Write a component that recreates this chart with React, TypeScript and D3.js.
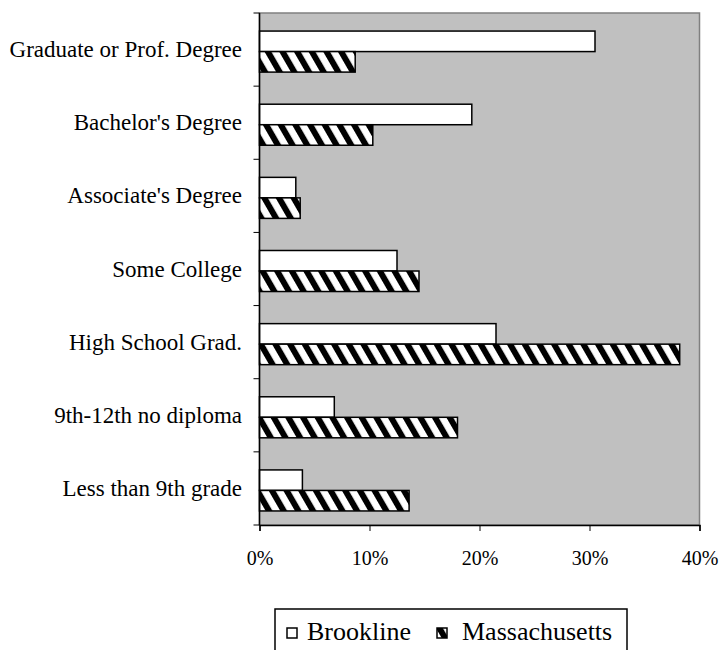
import React, { useEffect, useRef } from "react";
import * as d3 from "d3";

// --- Data ---
const categories = [
  "Graduate or Prof. Degree",
  "Bachelor's Degree",
  "Associate's Degree",
  "Some College",
  "High School Grad.",
  "9th-12th no diploma",
  "Less than 9th grade",
];
const seriesNames = ["Brookline", "Massachusetts"];
const brookline = [30.5, 19.3, 3.3, 12.5, 21.5, 6.8, 3.9];
const massachusetts = [8.7, 10.3, 3.7, 14.5, 38.2, 18.0, 13.6];
const xTicks = [0, 10, 20, 30, 40];

const FONT = "'Liberation Serif', 'Times New Roman', serif";

const App: React.FC = () => {
  const svgRef = useRef<SVGSVGElement>(null);
  const width = 722;
  const height = 650;

  useEffect(() => {
    if (!svgRef.current) return;
    const svg = d3.select(svgRef.current);
    svg.selectAll("*").remove();

    const plot = { left: 259.5, right: 699.5, top: 13, bottom: 525 };

    // hatch pattern for Massachusetts
    const defs = svg.append("defs");
    const pat = defs
      .append("pattern")
      .attr("id", "hatch")
      .attr("patternUnits", "userSpaceOnUse")
      .attr("width", 12.7)
      .attr("height", 10)
      .attr("patternTransform", "rotate(-30)");
    pat.append("rect").attr("width", 12.7).attr("height", 10).attr("fill", "#fff");
    pat.append("rect").attr("width", 6).attr("height", 10).attr("fill", "#000");

    const x = d3.scaleLinear().domain([0, 40]).range([plot.left, plot.right]);
    const y = d3
      .scaleBand()
      .domain(categories)
      .range([plot.top, plot.bottom])
      .padding(0);
    const bw = y.bandwidth();
    const sub = d3
      .scaleBand()
      .domain(seriesNames)
      .range([bw * 0.247, bw * 0.808])
      .padding(0);

    // plot area
    svg
      .append("rect")
      .attr("x", plot.left)
      .attr("y", plot.top)
      .attr("width", plot.right - plot.left)
      .attr("height", plot.bottom - plot.top)
      .attr("fill", "#c0c0c0")
      .attr("stroke", "#808080")
      .attr("stroke-width", 1.5);

    // bars
    const values = [brookline, massachusetts];
    const fills = ["#fff", "url(#hatch)"];
    seriesNames.forEach((s, si) => {
      svg
        .append("g")
        .selectAll("rect")
        .data(categories)
        .enter()
        .append("rect")
        .attr("x", x(0))
        .attr("y", (c) => y(c)! + sub(s)!)
        .attr("width", (c, i) => x(values[si][i]) - x(0))
        .attr("height", sub.bandwidth())
        .attr("fill", fills[si])
        .attr("stroke", "#000")
        .attr("stroke-width", 1.5);
    });

    // left axis: ticks at band boundaries
    const yBounds = categories.map((c) => y(c)!).concat([plot.bottom]);
    const left = svg.append("g");
    left
      .append("line")
      .attr("x1", plot.left)
      .attr("x2", plot.left)
      .attr("y1", plot.top)
      .attr("y2", plot.bottom)
      .attr("stroke", "#000")
      .attr("stroke-width", 1.5);
    left
      .selectAll("line.tick")
      .data(yBounds)
      .enter()
      .append("line")
      .attr("class", "tick")
      .attr("x1", plot.left - 6)
      .attr("x2", plot.left)
      .attr("y1", (d) => d)
      .attr("y2", (d) => d)
      .attr("stroke", "#000")
      .attr("stroke-width", 1);
    left
      .selectAll("text")
      .data(categories)
      .enter()
      .append("text")
      .attr("x", 242)
      .attr("y", (c) => y(c)! + bw / 2 + 7.5)
      .attr("text-anchor", "end")
      .style("font-family", FONT)
      .style("font-size", "23px")
      .text((c) => c);

    // bottom axis
    const bottom = svg
      .append("g")
      .attr("transform", `translate(0,${plot.bottom})`)
      .call(
        d3
          .axisBottom(x)
          .tickValues(xTicks)
          .tickSize(6)
          .tickPadding(20)
          .tickFormat((d) => `${d}%`)
      );
    bottom.select(".domain").attr("stroke", "#000").attr("stroke-width", 1.5);
    bottom.selectAll(".tick line").attr("stroke", "#000");
    bottom
      .selectAll(".tick text")
      .attr("fill", "#000")
      .style("font-family", FONT)
      .style("font-size", "20px");

    // legend
    const lg = svg.append("g");
    lg.append("rect")
      .attr("x", 275)
      .attr("y", 609)
      .attr("width", 352)
      .attr("height", 60)
      .attr("fill", "#fff")
      .attr("stroke", "#000")
      .attr("stroke-width", 1.5);
    const symX = [287, 437];
    const textX = [307, 462];
    seriesNames.forEach((s, si) => {
      lg.append("rect")
        .attr("x", symX[si])
        .attr("y", 628)
        .attr("width", 10)
        .attr("height", 10)
        .attr("fill", fills[si])
        .attr("stroke", "#000")
        .attr("stroke-width", 1.5);
      lg.append("text")
        .attr("x", textX[si])
        .attr("y", 640)
        .style("font-family", FONT)
        .style("font-size", "26px")
        .text(s);
    });
  }, []);

  return (
    <svg
      ref={svgRef}
      width={width}
      height={height}
      style={{ position: "absolute", left: 0, top: 0, background: "#fff" }}
    />
  );
};

export default App;
